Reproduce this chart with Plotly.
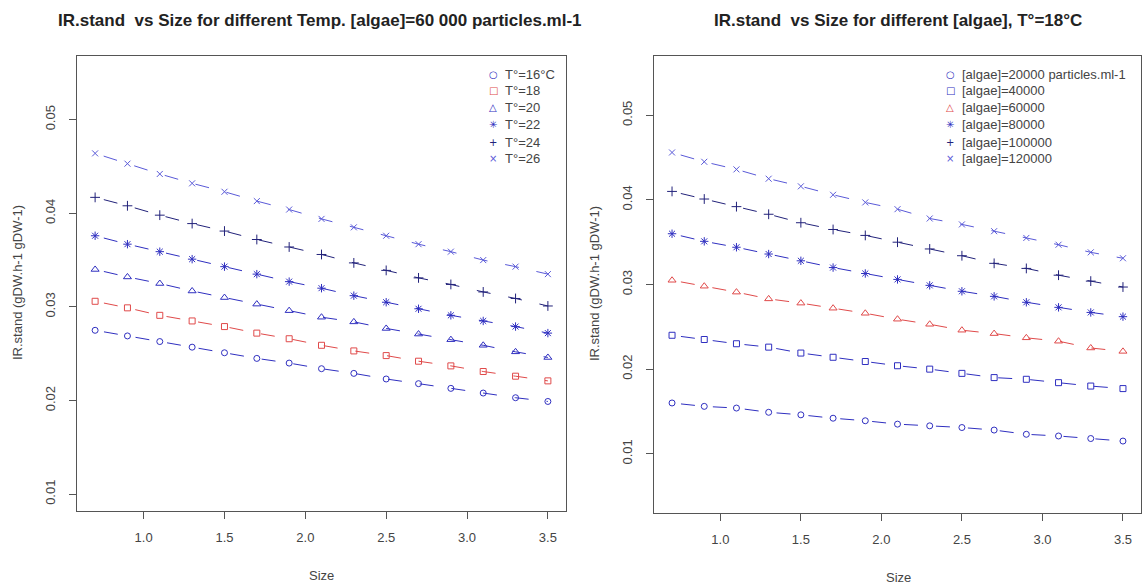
import plotly.graph_objects as go

# ---------------- data ----------------
size = [0.7, 0.9, 1.1, 1.3, 1.5, 1.7, 1.9, 2.1, 2.3, 2.5, 2.7, 2.9, 3.1, 3.3, 3.5]

temp_labels = ["T°=16°C", "T°=18", "T°=20", "T°=22", "T°=24", "T°=26"]
t16 = [0.0275, 0.0269, 0.0263, 0.0257, 0.0251, 0.0245, 0.0240, 0.0234, 0.0229, 0.0223, 0.0218, 0.0213, 0.0208, 0.0203, 0.0199]
t18 = [0.0306, 0.0299, 0.0291, 0.0285, 0.0279, 0.0272, 0.0266, 0.0259, 0.0253, 0.0248, 0.0242, 0.0237, 0.0231, 0.0226, 0.0221]
t20 = [0.0340, 0.0332, 0.0325, 0.0317, 0.0310, 0.0303, 0.0296, 0.0289, 0.0284, 0.0277, 0.0271, 0.0265, 0.0259, 0.0252, 0.0246]
t22 = [0.0376, 0.0367, 0.0359, 0.0351, 0.0343, 0.0335, 0.0327, 0.0320, 0.0312, 0.0305, 0.0298, 0.0291, 0.0285, 0.0279, 0.0272]
t24 = [0.0417, 0.0408, 0.0398, 0.0389, 0.0381, 0.0372, 0.0364, 0.0356, 0.0347, 0.0339, 0.0331, 0.0324, 0.0316, 0.0309, 0.0301]
t26 = [0.0464, 0.0453, 0.0442, 0.0432, 0.0423, 0.0413, 0.0404, 0.0394, 0.0385, 0.0376, 0.0367, 0.0359, 0.0350, 0.0343, 0.0335]

algae_labels = ["[algae]=20000 particles.ml-1", "[algae]=40000", "[algae]=60000",
                "[algae]=80000", "[algae]=100000", "[algae]=120000"]
a20 = [0.0160, 0.0156, 0.0154, 0.0149, 0.0146, 0.0142, 0.0139, 0.0135, 0.0133, 0.0131, 0.0128, 0.0123, 0.0121, 0.0118, 0.0115]
a40 = [0.0240, 0.0235, 0.0230, 0.0226, 0.0219, 0.0214, 0.0209, 0.0204, 0.0200, 0.0195, 0.0190, 0.0188, 0.0184, 0.0180, 0.0177]
a60 = [0.0305, 0.0298, 0.0291, 0.0283, 0.0278, 0.0272, 0.0266, 0.0259, 0.0253, 0.0246, 0.0242, 0.0237, 0.0233, 0.0225, 0.0221]
a80 = [0.0360, 0.0351, 0.0344, 0.0336, 0.0328, 0.0320, 0.0313, 0.0306, 0.0299, 0.0292, 0.0286, 0.0279, 0.0273, 0.0267, 0.0262]
a100 = [0.0410, 0.0401, 0.0392, 0.0383, 0.0373, 0.0365, 0.0358, 0.0350, 0.0342, 0.0334, 0.0325, 0.0319, 0.0311, 0.0304, 0.0297]
a120 = [0.0456, 0.0445, 0.0436, 0.0425, 0.0416, 0.0406, 0.0397, 0.0389, 0.0378, 0.0371, 0.0363, 0.0355, 0.0347, 0.0338, 0.0331]

x_ticks = [1.0, 1.5, 2.0, 2.5, 3.0, 3.5]
x_ticktext = ["1.0", "1.5", "2.0", "2.5", "3.0", "3.5"]
y_ticks = [0.01, 0.02, 0.03, 0.04, 0.05]
y_ticktext = ["0.01", "0.02", "0.03", "0.04", "0.05"]

title_left = "IR.stand  vs Size for different Temp. [algae]=60 000 particles.ml-1"
title_right = "IR.stand  vs Size for different [algae], T°=18°C"
y_title = "IR.stand (gDW.h-1 gDW-1)"
x_title = "Size"

# ---------------- styles ----------------
BLUE = "#2f2fc0"
NAVY = "#22227a"
LBLUE = "#5a5ad8"
RED = "#e04a4a"
symbols = ["circle-open", "square-open", "triangle-up-open", "asterisk-open", "cross-thin-open", "x-thin-open"]
uni_sym = ["○", "□", "△", "✳", "+", "×"]
left_colors = [BLUE, RED, BLUE, BLUE, NAVY, LBLUE]
right_colors = [BLUE, BLUE, RED, BLUE, NAVY, LBLUE]
msizes = [6, 6, 7, 7, 7, 6]
DASH = "0px,9px,14px,9px"

W, H = 1144, 586
FONT = "Liberation Sans, Arial, sans-serif"
TXT = "#444"

fig = go.Figure()

left_series = [t16, t18, t20, t22, t24, t26]
right_series = [a20, a40, a60, a80, a100, a120]

for i, ys in enumerate(left_series):
    fig.add_trace(go.Scatter(
        x=size, y=ys, mode="lines+markers", xaxis="x", yaxis="y",
        name=temp_labels[i], showlegend=False,
        line=dict(color=left_colors[i], width=1, dash=DASH),
        marker=dict(symbol=symbols[i], size=msizes[i], color=left_colors[i],
                    line=dict(color=left_colors[i], width=1)),
    ))
for i, ys in enumerate(right_series):
    fig.add_trace(go.Scatter(
        x=size, y=ys, mode="lines+markers", xaxis="x2", yaxis="y2",
        name=algae_labels[i], showlegend=False,
        line=dict(color=right_colors[i], width=1, dash=DASH),
        marker=dict(symbol=symbols[i], size=msizes[i], color=right_colors[i],
                    line=dict(color=right_colors[i], width=1)),
    ))

# ---------------- axes ----------------
def px_x(p):
    return p / W

def px_y(p):
    return 1 - p / H

axis_common = dict(
    showline=True, mirror=True, linecolor="#555", linewidth=1,
    ticks="outside", ticklen=7, tickcolor="#555", tickwidth=1,
    showgrid=False, zeroline=False,
    tickfont=dict(family=FONT, size=13, color=TXT),
)

fig.update_layout(
    width=W, height=H,
    margin=dict(l=0, r=0, t=0, b=0),
    paper_bgcolor="white", plot_bgcolor="white",
    showlegend=False,
    xaxis=dict(domain=[px_x(77), px_x(566)], range=[0.588, 3.612],
               tickvals=x_ticks, ticktext=x_ticktext, anchor="y",
               ticklabelstandoff=7, **axis_common),
    yaxis=dict(domain=[px_y(511), px_y(56)], range=[0.0082, 0.0568],
               tickvals=y_ticks, ticktext=y_ticktext, anchor="x",
               tickangle=-90, ticklabelstandoff=9, **axis_common),
    xaxis2=dict(domain=[px_x(654), px_x(1141)], range=[0.588, 3.612],
                tickvals=x_ticks, ticktext=x_ticktext, anchor="y2",
                ticklabelstandoff=7, **axis_common),
    yaxis2=dict(domain=[px_y(513), px_y(56)], range=[0.003, 0.057],
                tickvals=y_ticks, ticktext=y_ticktext, anchor="x2",
                tickangle=-90, ticklabelstandoff=9, **axis_common),
)

ann = []
# titles
ann.append(dict(text="<b>" + title_left + "</b>", x=px_x(320), y=px_y(21), xref="paper", yref="paper",
                showarrow=False, xanchor="center", yanchor="middle",
                font=dict(family=FONT, size=17, color="#222")))
ann.append(dict(text="<b>" + title_right + "</b>", x=px_x(898), y=px_y(21), xref="paper", yref="paper",
                showarrow=False, xanchor="center", yanchor="middle",
                font=dict(family=FONT, size=17, color="#222")))
# axis titles
for xc, yc in [(17, 283), (594, 284)]:
    ann.append(dict(text=y_title, x=px_x(xc), y=px_y(yc), xref="paper", yref="paper",
                    showarrow=False, textangle=-90, xanchor="center", yanchor="middle",
                    font=dict(family=FONT, size=13, color=TXT)))
for xc, yc in [(321, 575), (898, 577)]:
    ann.append(dict(text=x_title, x=px_x(xc), y=px_y(yc), xref="paper", yref="paper",
                    showarrow=False, xanchor="center", yanchor="middle",
                    font=dict(family=FONT, size=13, color=TXT)))

# legends (R style: symbol + label, no box)
row_y = [74, 91, 108, 125, 142, 159]
for i in range(6):
    for sym_x, txt_x, labels, colors in [(493, 503, temp_labels, left_colors),
                                         (950, 960, algae_labels, right_colors)]:
        ann.append(dict(text=uni_sym[i], x=px_x(sym_x), y=px_y(row_y[i]), xref="paper", yref="paper",
                        showarrow=False, xanchor="center", yanchor="middle",
                        font=dict(family="DejaVu Sans", size=10, color=colors[i])))
        ann.append(dict(text=labels[i], x=px_x(txt_x), y=px_y(row_y[i]), xref="paper", yref="paper",
                        showarrow=False, xanchor="left", yanchor="middle",
                        font=dict(family=FONT, size=13, color=TXT)))

fig.update_layout(annotations=ann)
fig.write_html("out.html", config={"displayModeBar": False},
               post_script="document.body.style.margin='0px';document.body.style.overflow='hidden';")
